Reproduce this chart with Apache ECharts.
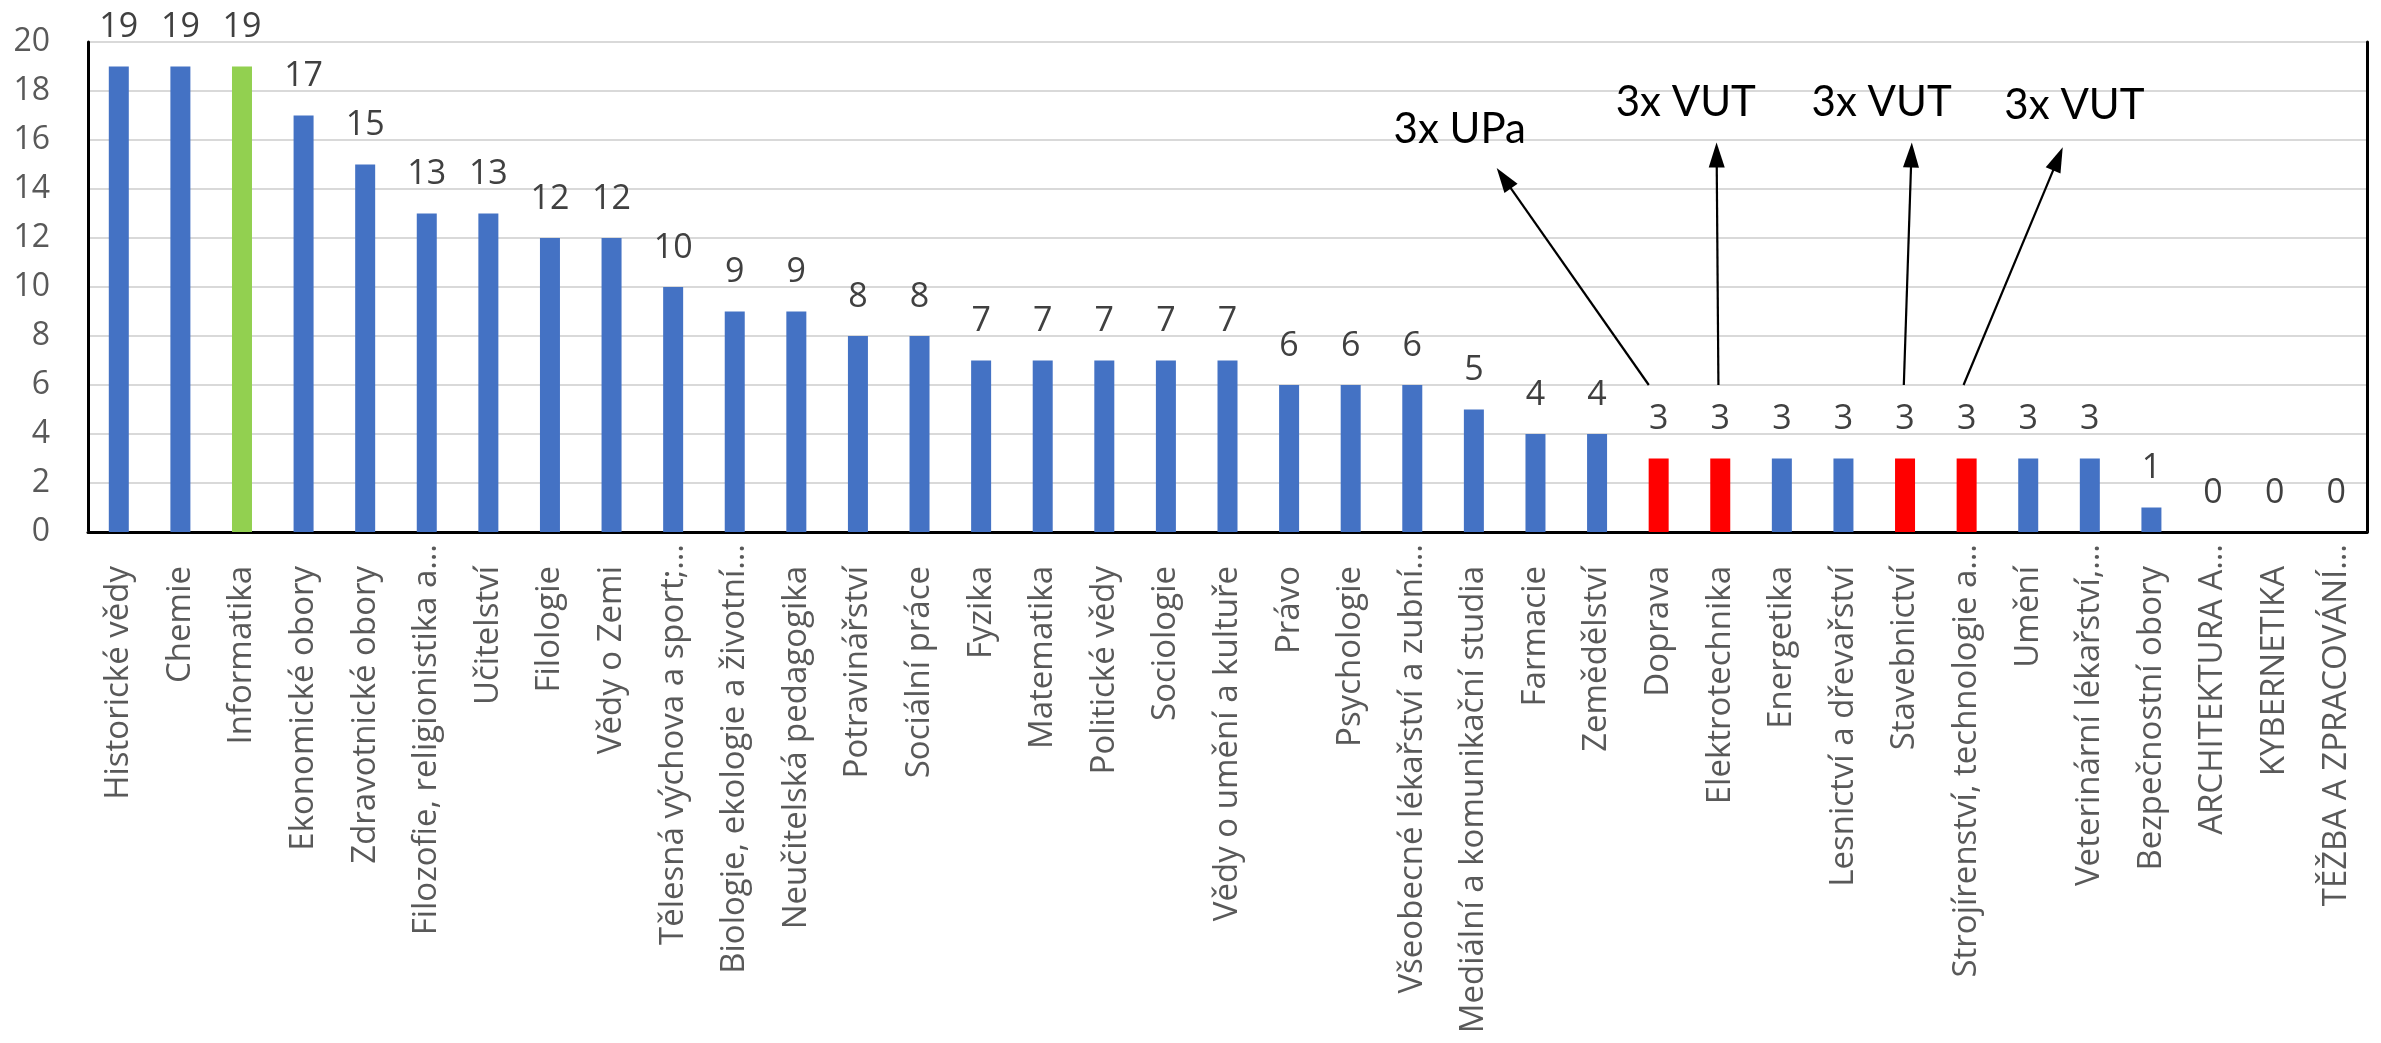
<!DOCTYPE html>
<html><head><meta charset="utf-8">
<script src="https://cdn.jsdelivr.net/npm/echarts@6/dist/echarts.min.js"></script>
<style>html,body{margin:0;padding:0;background:#fff}#c{width:2381px;height:1043px}</style>
</head><body><div id="c"></div>
<script>
const categories = [
  'Historické vědy','Chemie','Informatika','Ekonomické obory','Zdravotnické obory',
  'Filozofie, religionistika a…','Učitelství','Filologie','Vědy o Zemi',
  'Tělesná výchova a sport;…','Biologie, ekologie a životní…','Neučitelská pedagogika',
  'Potravinářství','Sociální práce','Fyzika','Matematika','Politické vědy','Sociologie',
  'Vědy o umění a kultuře','Právo','Psychologie','Všeobecné lékařství a zubní…',
  'Mediální a komunikační studia','Farmacie','Zemědělství','Doprava','Elektrotechnika',
  'Energetika','Lesnictví a dřevařství','Stavebnictví','Strojírenství, technologie a…',
  'Umění','Veterinární lékařství,…','Bezpečnostní obory','ARCHITEKTURA A…','KYBERNETIKA',
  'TĚŽBA A ZPRACOVÁNÍ…'
];
const values = [19,19,19,17,15,13,13,12,12,10,9,9,8,8,7,7,7,7,7,6,6,6,5,4,4,3,3,3,3,3,3,3,3,1,0,0,0];
const greenCategories = ['Informatika'];
const redCategories = ['Doprava','Elektrotechnika','Stavebnictví','Strojírenství, technologie a…'];
const annotationTexts = ['3x UPa','3x VUT','3x VUT','3x VUT'];

// annotation layout (category index positions / axis values)
const annotationLayout = [
  {from:[24.84,6], to:[22.37,14.86], label:[21.77,16.45]},
  {from:[25.97,6], to:[25.94,15.9], label:[25.44,17.55]},
  {from:[28.98,6], to:[29.11,15.9], label:[28.62,17.55]},
  {from:[29.95,6], to:[31.56,15.7], label:[31.75,17.4]}
];

const BLUE='#4472C4', GREEN='#92D050', RED='#FF0000';
const seriesData = values.map((v,i)=>{
  const c = categories[i];
  let col = BLUE;
  if (greenCategories.includes(c)) col = GREEN;
  if (redCategories.includes(c)) col = RED;
  return {value:v, itemStyle:{color:col}};
});
// full (non-truncated) labels sit a bit further from the axis, as in the original
const axisCategoryItems = categories.map(c => c.endsWith('…')
  ? {value:c}
  : {value:c, textStyle:{padding:[0,22,0,0]}});

const chart = echarts.init(document.getElementById('c'));
const FONT = "'Open Sans'";
chart.setOption({
  animation:false,
  backgroundColor:'#ffffff',
  grid:{left:88,right:14,top:42,bottom:511,containLabel:false,outerBoundsMode:'none'},
  xAxis:[{
    type:'category', data:axisCategoryItems, position:'bottom',
    axisLine:{show:true,lineStyle:{color:'#bfbfbf',width:2}},
    axisTick:{show:false},
    axisLabel:{interval:0,rotate:90,margin:12,fontSize:33,color:'#595959',fontFamily:FONT},
    splitLine:{show:false}
  },{
    type:'category', data:categories, position:'top',
    axisLine:{show:true,lineStyle:{color:'#000',width:3}},
    axisTick:{show:false}, axisLabel:{show:false}, splitLine:{show:false}
  }],
  yAxis:[{
    type:'value', min:0, max:20, interval:2, position:'left',
    axisLine:{show:true,lineStyle:{color:'#000',width:3}},
    axisTick:{show:false},
    axisLabel:{margin:38,fontSize:32,color:'#595959',fontFamily:FONT},
    splitLine:{show:true,lineStyle:{color:'#d9d9d9',width:2}}
  },{
    type:'value', min:0, max:20, interval:2, position:'right',
    axisLine:{show:true,lineStyle:{color:'#000',width:3}},
    axisTick:{show:false}, axisLabel:{show:false}, splitLine:{show:false}
  }],
  series:[{
    type:'bar', xAxisIndex:0, yAxisIndex:0, data:seriesData, barWidth:20,
    label:{show:true,position:'top',distance:22,fontSize:34,color:'#404040',fontFamily:FONT}
  }]
});

function px(idx,val){
  const i0=Math.floor(idx), f=idx-i0;
  const a=chart.convertToPixel({seriesIndex:0},[i0,val]);
  const b=chart.convertToPixel({seriesIndex:0},[i0+1,val]);
  return [a[0]+(b[0]-a[0])*f, a[1]];
}
const elements=[];
annotationLayout.forEach((an,k)=>{
  const p0=px(an.from[0],an.from[1]);
  const p1=px(an.to[0],an.to[1]);
  const dx=p1[0]-p0[0], dy=p1[1]-p0[1];
  const len=Math.sqrt(dx*dx+dy*dy);
  const ux=dx/len, uy=dy/len;
  const hl=25, hw=8;
  const bx=p1[0]-ux*hl, by=p1[1]-uy*hl;
  elements.push({type:'line',z:100,shape:{x1:p0[0],y1:p0[1],x2:bx+ux*2,y2:by+uy*2},style:{stroke:'#000',lineWidth:2.2}});
  elements.push({type:'polygon',z:100,shape:{points:[[p1[0],p1[1]],[bx-uy*hw,by+ux*hw],[bx+uy*hw,by-ux*hw]]},style:{fill:'#000'}});
  const t=px(an.label[0],an.label[1]);
  elements.push({type:'text',z:100,style:{text:annotationTexts[k],x:t[0],y:t[1],
    align:'center',verticalAlign:'middle',textAlign:'center',textVerticalAlign:'middle',
    fontSize:42,fontFamily:'Lato',fill:'#000'}});
});
chart.setOption({graphic:{elements:elements}});
</script>
</body></html>
